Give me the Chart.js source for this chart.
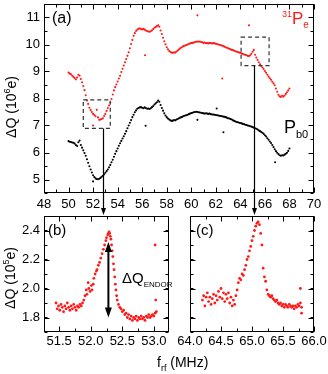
<!DOCTYPE html>
<html>
<head>
<meta charset="utf-8">
<script src="https://cdn.jsdelivr.net/npm/chart.js@4.4.1/dist/chart.umd.min.js"></script>
<style>
  html, body { margin: 0; padding: 0; background: #fff; }
  #wrap { position: relative; width: 328px; height: 374px; }
  #wrap canvas { position: absolute; left: 0; top: 0; }
</style>
</head>
<body>
<div id="wrap">
  <canvas id="chartA" width="328" height="374"></canvas>
  <canvas id="chartB" width="328" height="374"></canvas>
  <canvas id="chartC" width="328" height="374"></canvas>
</div>
<script>
// DATA - panel (a): charge change vs rf frequency (MHz), 10^6 e
const freqA = [
  50.0, 50.1, 50.2, 50.3, 50.4, 50.5, 50.6, 50.7, 50.8, 50.9,
  51.0, 51.1, 51.2, 51.3, 51.4, 51.5, 51.6, 51.7, 51.8, 51.9,
  52.0, 52.1, 52.2, 52.3, 52.4, 52.5, 52.6, 52.7, 52.8, 52.9,
  53.0, 53.1, 53.2, 53.3, 53.4, 53.5, 53.6, 53.7, 53.8, 53.9,
  54.0, 54.1, 54.2, 54.3, 54.4, 54.5, 54.6, 54.7, 54.8, 54.9,
  55.0, 55.1, 55.2, 55.3, 55.4, 55.5, 55.6, 55.7, 55.8, 55.9,
  56.0, 56.1, 56.2, 56.3, 56.4, 56.5, 56.6, 56.7, 56.8, 56.9,
  57.0, 57.1, 57.2, 57.3, 57.4, 57.5, 57.6, 57.7, 57.8, 57.9,
  58.0, 58.1, 58.2, 58.3, 58.4, 58.5, 58.6, 58.7, 58.8, 58.9,
  59.0, 59.1, 59.2, 59.3, 59.4, 59.5, 59.6, 59.7, 59.8, 59.9,
  60.0, 60.1, 60.2, 60.3, 60.4, 60.5, 60.6, 60.7, 60.8, 60.9,
  61.0, 61.1, 61.2, 61.3, 61.4, 61.5, 61.6, 61.7, 61.8, 61.9,
  62.0, 62.1, 62.2, 62.3, 62.4, 62.5, 62.6, 62.7, 62.8, 62.9,
  63.0, 63.1, 63.2, 63.3, 63.4, 63.5, 63.6, 63.7, 63.8, 63.9,
  64.0, 64.1, 64.2, 64.3, 64.4, 64.5, 64.6, 64.7, 64.8, 64.9,
  65.0, 65.1, 65.2, 65.3, 65.4, 65.5, 65.6, 65.7, 65.8, 65.9,
  66.0, 66.1, 66.2, 66.3, 66.4, 66.5, 66.6, 66.7, 66.8, 66.9,
  67.0, 67.1, 67.2, 67.3, 67.4, 67.5, 67.6, 67.7, 67.8, 67.9,
  68.0
];
const p31e = [
  8.96, 8.92, 8.90, 8.84, 8.80, 8.76, 8.71, 8.78, 8.88, 8.84,
  8.72, 8.60, 8.46, 8.31, 8.12, 7.93, 7.80, 7.66, 7.57, 7.50,
  7.43, 7.39, 7.34, 7.58, 7.30, 7.21, 7.22, 7.24, 7.27, 7.35,
  7.43, 7.54, 7.65, 7.74, 7.85, 7.98, 8.15, 8.30, 8.42, 8.52,
  8.63, 8.74, 8.84, 8.98, 9.10, 9.22, 9.34, 9.46, 9.58, 9.71,
  9.86, 10.02, 10.17, 10.32, 10.42, 10.50, 10.55, 10.58, 10.60, 10.57,
  10.56, 10.58, 10.55, 10.52, 10.50, 10.48, 10.47, 10.49, 10.53, 10.57,
  10.62, 10.65, 10.68, 10.71, 10.66, 10.52, 10.39, 10.25, 10.12, 10.01,
  9.90, 9.82, 9.76, 9.72, 9.70, 9.69, 9.71, 9.70, 9.74, 9.78,
  9.82, 9.86, 9.89, 9.92, 9.95, 9.96, 9.98, 10.00, 10.02, 10.04,
  10.05, 10.06, 10.07, 10.09, 10.10, 10.11, 10.10, 10.11, 10.09, 10.08,
  10.06, 10.07, 10.05, 10.05, 10.04, 10.06, 10.05, 10.04, 10.05, 10.04,
  10.03, 10.02, 10.00, 9.99, 9.97, 9.96, 9.94, 9.92, 9.90, 9.88,
  9.86, 9.84, 9.82, 9.80, 9.79, 9.77, 9.75, 9.73, 9.72, 9.70,
  9.69, 9.67, 9.65, 9.63, 9.62, 9.60, 9.58, 9.57, 9.60, 9.66,
  9.73, 9.80, 9.62, 9.52, 9.43, 9.34, 9.27, 9.21, 9.15, 9.09,
  9.02, 8.95, 8.88, 8.81, 8.75, 8.69, 8.62, 8.56, 8.49, 8.37,
  8.25, 8.14, 8.08, 8.06, 8.10, 8.07, 8.11, 8.17, 8.23, 8.30,
  8.37
];
const pb0 = [
  6.42, 6.40, 6.39, 6.37, 6.36, 6.33, 6.28, 6.24, 6.38, 6.44,
  6.28, 6.18, 6.08, 5.98, 5.88, 5.75, 5.62, 5.49, 5.37, 5.26,
  5.16, 5.09, 5.04, 5.02, 5.01, 5.03, 5.06, 5.10, 5.14, 5.19,
  5.25, 5.31, 5.37, 5.45, 5.54, 5.64, 5.73, 5.84, 5.95, 6.05,
  6.15, 6.25, 6.34, 6.43, 6.52, 6.60, 6.69, 6.79, 6.90, 7.00,
  7.10, 7.20, 7.31, 7.40, 7.49, 7.56, 7.62, 7.65, 7.67, 7.68,
  7.66, 7.64, 7.67, 7.65, 7.62, 7.63, 7.61, 7.64, 7.68, 7.72,
  7.78, 7.82, 7.86, 7.92, 7.88, 7.76, 7.65, 7.55, 7.45, 7.37,
  7.31, 7.26, 7.22, 7.19, 7.17, 7.18, 7.20, 7.19, 7.22, 7.24,
  7.27, 7.29, 7.31, 7.33, 7.35, 7.37, 7.38, 7.40, 7.42, 7.44,
  7.46, 7.47, 7.49, 7.50, 7.51, 7.50, 7.49, 7.48, 7.47, 7.46,
  7.45, 7.44, 7.45, 7.44, 7.43, 7.44, 7.42, 7.41, 7.41, 7.40,
  7.39, 7.38, 7.37, 7.36, 7.35, 7.34, 7.33, 7.32, 7.31, 7.29,
  7.27, 7.26, 7.24, 7.22, 7.19, 7.17, 7.15, 7.13, 7.12, 7.10,
  7.09, 7.08, 7.06, 7.05, 7.03, 7.02, 7.00, 6.99, 6.97, 6.96,
  6.94, 6.92, 6.90, 6.88, 6.85, 6.82, 6.79, 6.76, 6.73, 6.69,
  6.64, 6.59, 6.53, 6.47, 6.41, 6.35, 6.28, 6.20, 6.12, 6.05,
  5.99, 5.94, 5.90, 5.88, 5.90, 5.89, 5.92, 5.95, 5.99, 6.06,
  6.15
];
// stray points off the curves
const p31eStrayFreq = [52.0, 56.23, 60.5, 62.53, 64.7];
const p31eStray = [7.0, 9.6, 11.08, 8.74, 10.71];
const pb0StrayFreq = [52.0, 56.28, 60.5, 62.07, 62.62, 66.83];
const pb0Stray = [4.93, 6.99, 7.21, 7.63, 6.75, 5.64];

// DATA - panel (b): ENDOR line near 52.3 MHz, 10^5 e
const freqB = [
  51.45, 51.47, 51.49, 51.51, 51.53, 51.55, 51.57, 51.59, 51.61, 51.63,
  51.65, 51.67, 51.69, 51.71, 51.73, 51.75, 51.77, 51.79, 51.81, 51.83,
  51.85, 51.87, 51.89, 51.91, 51.93, 51.94, 51.96, 51.97, 51.99, 52.01,
  52.02, 52.04, 52.05, 52.07, 52.09, 52.10, 52.12, 52.14, 52.16, 52.18,
  52.20, 52.22, 52.24, 52.25, 52.27, 52.28, 52.29, 52.30, 52.31, 52.32,
  52.33, 52.34, 52.35, 52.36, 52.37, 52.38, 52.39, 52.40, 52.41, 52.42,
  52.44, 52.46, 52.48, 52.50, 52.52, 52.54, 52.56, 52.58, 52.60, 52.62,
  52.64, 52.66, 52.68, 52.70, 52.72, 52.74, 52.76, 52.78, 52.80, 52.82,
  52.84, 52.86, 52.88, 52.90, 52.92, 52.94, 52.96, 52.98, 53.00, 53.02,
  53.04, 53.02, 53.03
];
const endorB = [
  1.90, 1.86, 1.88, 1.85, 1.89, 1.87, 1.84, 1.88, 1.86, 1.90,
  1.87, 1.85, 1.88, 1.86, 1.89, 1.87, 1.85, 1.88, 1.87, 1.89,
  1.88, 1.90, 1.92, 1.95, 1.99, 1.96, 2.04, 2.00, 1.98, 2.02,
  1.99, 2.03, 2.07, 2.10, 2.12, 2.13, 2.16, 2.18, 2.21, 2.24,
  2.27, 2.30, 2.33, 2.35, 2.37, 2.38, 2.39, 2.38, 2.36, 2.34,
  2.30, 2.26, 2.22, 2.17, 2.13, 2.08, 2.03, 1.99, 1.95, 1.92,
  1.89, 1.87, 1.86, 1.84, 1.85, 1.82, 1.83, 1.80, 1.82, 1.79,
  1.81, 1.78, 1.80, 1.79, 1.81, 1.78, 1.80, 1.79, 1.81, 1.79,
  1.80, 1.78, 1.81, 1.80, 1.82, 1.80, 1.81, 1.82, 1.81, 1.83,
  1.84, 2.30, 1.92
];

// DATA - panel (c): ENDOR line near 65.1 MHz, 10^5 e
const freqC = [
  64.20, 64.22, 64.24, 64.26, 64.28, 64.30, 64.32, 64.34, 64.36, 64.38,
  64.40, 64.42, 64.44, 64.46, 64.48, 64.50, 64.52, 64.54, 64.56, 64.58,
  64.60, 64.62, 64.64, 64.66, 64.68, 64.70, 64.72, 64.74, 64.76, 64.78,
  64.80, 64.82, 64.84, 64.86, 64.88, 64.90, 64.92, 64.94, 64.96, 64.98,
  65.00, 65.02, 65.04, 65.06, 65.08, 65.10, 65.12, 65.14, 65.16, 65.18,
  65.20, 65.22, 65.24, 65.26, 65.28, 65.30, 65.32, 65.34, 65.36, 65.38,
  65.40, 65.42, 65.44, 65.46, 65.48, 65.50, 65.52, 65.54, 65.56, 65.58,
  65.60, 65.62, 65.64, 65.66, 65.68, 65.70, 65.72, 65.74, 65.76, 65.78,
  65.80, 65.78, 65.80
];
const endorC = [
  1.92, 1.95, 1.88, 1.94, 1.97, 1.91, 1.94, 1.89, 1.93, 1.96,
  1.90, 1.95, 1.92, 1.98, 1.94, 2.00, 1.93, 1.97, 1.91, 1.96,
  1.93, 1.97, 1.90, 1.94, 1.88, 1.92, 1.89, 1.95, 1.99, 2.04,
  2.07, 2.06, 2.10, 2.09, 2.13, 2.16, 2.20, 2.22, 2.26, 2.29,
  2.33, 2.36, 2.40, 2.43, 2.45, 2.46, 2.44, 2.38, 2.30, 2.14,
  2.08, 2.05, 1.99, 1.96, 1.95, 1.94, 1.95, 1.93, 1.92, 1.91,
  1.92, 1.90, 1.89, 1.90, 1.88, 1.89, 1.87, 1.89, 1.88, 1.87,
  1.89, 1.88, 1.87, 1.88, 1.86, 1.88, 1.87, 1.89, 1.88, 1.90,
  1.87, 2.00, 1.83
];

// TICK LABELS
const ticksAX = [48, 50, 52, 54, 56, 58, 60, 62, 64, 66, 68, 70];
const ticksAY = [5, 6, 7, 8, 9, 10, 11];
const ticksBX = [51.5, 52.0, 52.5, 53.0];
const ticksCX = [64.0, 64.5, 65.0, 65.5, 66.0];
const ticksLowY = [1.8, 2.0, 2.2, 2.4];

// LAYOUT (pixel boxes of the three plot areas)
const W = 328, H = 374;
const FONT = "'Liberation Sans', Arial, Helvetica, sans-serif";
const boxA = { left: 44, right: 314, top: 1, bottom: 193 };
const boxB = { left: 44, right: 169, top: 216, bottom: 332 };
const boxC = { left: 190, right: 314, top: 216, bottom: 332 };
const RED = '#ff1a1a';

function pts(xs, ys) {
  return xs.map((x, i) => ({ x: x, y: ys[i] }));
}

function axis(min, max, tickVals, size, pad, fmt, showLabels) {
  return {
    type: 'linear', min: min, max: max,
    grid: { display: false, drawTicks: false },
    border: { display: false },
    afterBuildTicks: s => { s.ticks = tickVals.map(v => ({ value: v })); },
    afterFit: s => {
      if (s.isHorizontal()) s.height = size; else s.width = size;
      s.paddingLeft = 0; s.paddingRight = 0; s.paddingTop = 0; s.paddingBottom = 0;
    },
    ticks: {
      display: showLabels, color: '#000', padding: pad, autoSkip: false, maxRotation: 0,
      font: { family: FONT, size: 13 },
      callback: fmt
    }
  };
}

// frame + inward ticks on all four sides
const framePlugin = {
  id: 'frame',
  afterDatasetsDraw(chart, args, o) {
    const { ctx, chartArea: a } = chart;
    const xs = chart.scales.x, ys = chart.scales.y;
    const l = Math.round(a.left) + 0.5, r = Math.round(a.right) - 0.5;
    const t = Math.round(a.top) + 0.5, b = Math.round(a.bottom) - 0.5;
    ctx.save();
    ctx.strokeStyle = '#000';
    ctx.lineWidth = 1;
    ctx.beginPath();
    const xTick = (v, len) => {
      const p = Math.round(xs.getPixelForValue(v)) + 0.5;
      ctx.moveTo(p, b); ctx.lineTo(p, b - len);
      ctx.moveTo(p, t); ctx.lineTo(p, t + len);
    };
    const yTick = (v, len) => {
      const p = Math.round(ys.getPixelForValue(v)) + 0.5;
      ctx.moveTo(l, p); ctx.lineTo(l + len, p);
      ctx.moveTo(r, p); ctx.lineTo(r - len, p);
    };
    for (let v = Math.ceil(xs.min / o.xMinor) * o.xMinor; v <= xs.max + 1e-9; v += o.xMinor) xTick(v, 3);
    for (let v = Math.ceil(ys.min / o.yMinor) * o.yMinor; v <= ys.max + 1e-9; v += o.yMinor) yTick(v, 3);
    xs.ticks.forEach(tk => xTick(tk.value, 5));
    ys.ticks.forEach(tk => yTick(tk.value, 5));
    ctx.stroke();
    ctx.strokeRect(l, t, r - l, b - t);
    ctx.restore();
  }
};

// text helpers: runs of [text, size, dy]
function runs(ctx, parts, x, y, color) {
  ctx.fillStyle = color;
  ctx.textBaseline = 'alphabetic';
  ctx.textAlign = 'left';
  let cx = x;
  parts.forEach(p => {
    ctx.font = p[1] + 'px ' + FONT;
    ctx.fillText(p[0], cx, y + (p[2] || 0));
    cx += ctx.measureText(p[0]).width;
  });
  return cx - x;
}
function runsWidth(ctx, parts) {
  let w = 0;
  parts.forEach(p => { ctx.font = p[1] + 'px ' + FONT; w += ctx.measureText(p[0]).width; });
  return w;
}
function yTitle(ctx, cx, cy, expo) {
  const parts = [['\u0394Q (10', 14], [expo, 9, -6], ['e)', 14]];
  ctx.save();
  ctx.translate(cx, cy);
  ctx.rotate(-Math.PI / 2);
  const w = runsWidth(ctx, parts);
  runs(ctx, parts, -w / 2, 5, '#000');
  ctx.restore();
}
function arrowHead(ctx, x, y, dir, w, h) {
  ctx.beginPath();
  ctx.moveTo(x, y);
  ctx.lineTo(x - w / 2, y - dir * h);
  ctx.lineTo(x + w / 2, y - dir * h);
  ctx.closePath();
  ctx.fill();
}

// annotations of panel (a): labels, dashed boxes and arrows down to (b),(c)
const zoomBoxes = [
  { x0: 51.2, x1: 53.4, y0: 6.89, y1: 7.95, arrowAt: 52.8 },
  { x0: 64.06, x1: 66.34, y0: 9.22, y1: 10.27, arrowAt: 65.11 }
];
const notesA = {
  id: 'notesA',
  afterDraw(chart) {
    const { ctx } = chart;
    const xs = chart.scales.x, ys = chart.scales.y;
    ctx.save();
    ctx.strokeStyle = '#333';
    ctx.lineWidth = 1.2;
    ctx.setLineDash([4, 3]);
    zoomBoxes.forEach(bx => {
      const x0 = xs.getPixelForValue(bx.x0), x1 = xs.getPixelForValue(bx.x1);
      const y0 = ys.getPixelForValue(bx.y0), y1 = ys.getPixelForValue(bx.y1);
      ctx.strokeRect(x0, y1, x1 - x0, y0 - y1);
    });
    ctx.setLineDash([]);
    ctx.strokeStyle = '#000';
    ctx.fillStyle = '#000';
    ctx.lineWidth = 1.2;
    zoomBoxes.forEach(bx => {
      const ax = Math.round(xs.getPixelForValue(bx.arrowAt)) + 0.5;
      const y0 = ys.getPixelForValue(bx.y0);
      const tip = boxB.top - 1;
      ctx.beginPath();
      ctx.moveTo(ax, y0);
      ctx.lineTo(ax, tip - 5);
      ctx.stroke();
      arrowHead(ctx, ax, tip, 1, 5, 7);
    });
    runs(ctx, [['(a)', 16]], 52, 23, '#000');
    runs(ctx, [['31', 9, -7], ['P', 17], ['e', 10, 4]], 282, 24, RED);
    runs(ctx, [['P', 18], ['b0', 11, 5]], 284, 133, '#000');
    yTitle(ctx, 11, 107, '6');
    ctx.restore();
  }
};

const notesB = {
  id: 'notesB',
  afterDraw(chart) {
    const { ctx } = chart;
    const xs = chart.scales.x, ys = chart.scales.y;
    ctx.save();
    runs(ctx, [['(b)', 15]], 48, 235, '#000');
    // delta Q ENDOR double arrow
    const ax = xs.getPixelForValue(52.28);
    const yTop = ys.getPixelForValue(2.32), yBot = ys.getPixelForValue(1.80);
    ctx.strokeStyle = '#000';
    ctx.fillStyle = '#000';
    ctx.lineWidth = 2;
    ctx.beginPath();
    ctx.moveTo(ax, yTop + 8);
    ctx.lineTo(ax, yBot - 8);
    ctx.stroke();
    arrowHead(ctx, ax, yTop, -1, 7, 10);
    arrowHead(ctx, ax, yBot, 1, 7, 10);
    runs(ctx, [['\u0394Q', 15], ['ENDOR', 8, 4]], 122, 283, '#000');
    yTitle(ctx, 10, 278, '5');
    // shared x title
    runs(ctx, [['f', 14], ['rf', 9, 4], [' (MHz)', 14]], 157, 367, '#000');
    ctx.restore();
  }
};
const notesC = {
  id: 'notesC',
  afterDraw(chart) {
    runs(chart.ctx, [['(c)', 15]], 196, 235, '#000');
  }
};

function makeChart(id, box, xr, yr, xt, yt, xFmt, yFmt, showY, datasets, minor, notes) {
  return new Chart(document.getElementById(id), {
    type: 'scatter',
    data: { datasets: datasets },
    options: {
      responsive: false,
      animation: false,
      events: [],
      layout: { padding: { left: 0, top: box.top, right: W - box.right, bottom: 0 } },
      scales: {
        x: axis(xr[0], xr[1], xt, H - box.bottom, xr[2], xFmt, true),
        y: axis(yr[0], yr[1], yt, box.left, 4, yFmt, showY)
      },
      plugins: { legend: { display: false }, tooltip: { enabled: false }, frame: minor }
    },
    plugins: [framePlugin, notes]
  });
}

function dots(data, color, r) {
  return { data: data, backgroundColor: color, borderWidth: 0, pointRadius: r, pointStyle: 'circle' };
}

const fmtInt = v => String(v);
const fmt1 = v => v.toFixed(1);

makeChart('chartA', boxA, [48, 70, 4], [4.5, 11.5], ticksAX, ticksAY, fmtInt, fmtInt, true, [
  dots(pts(freqA, p31e).concat(pts(p31eStrayFreq, p31eStray)), RED, 1.05),
  dots(pts(freqA, pb0).concat(pts(pb0StrayFreq, pb0Stray)), '#000', 1.05)
], { xMinor: 1, yMinor: 0.5 }, notesA);

makeChart('chartB', boxB, [51.26, 53.24, 2], [1.7, 2.5], ticksBX, ticksLowY, fmt1, fmt1, true, [
  dots(pts(freqB, endorB), RED, 1.4)
], { xMinor: 0.25, yMinor: 0.1 }, notesB);

makeChart('chartC', boxC, [64, 66, 2], [1.7, 2.5], ticksCX, ticksLowY, fmt1, fmt1, false, [
  dots(pts(freqC, endorC), RED, 1.4)
], { xMinor: 0.25, yMinor: 0.1 }, notesC);
</script>
</body>
</html>
